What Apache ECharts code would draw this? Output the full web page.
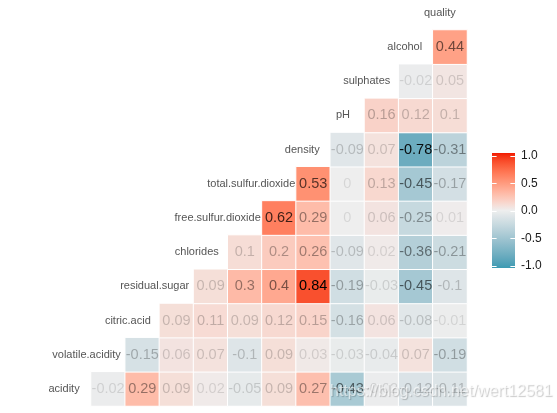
<!DOCTYPE html>
<html><head><meta charset="utf-8">
<script src="https://cdn.jsdelivr.net/npm/echarts@6/dist/echarts.min.js"></script>
<style>html,body{margin:0;padding:0;background:#fff}#c{width:557px;height:413px}</style>
</head><body><div id="c"></div>
<script>
// ---- data ----
const variables = ['acidity','volatile.acidity','citric.acid','residual.sugar','chlorides',
  'free.sulfur.dioxide','total.sulfur.dioxide','density','pH','sulphates','alcohol','quality'];
// correlations of each row variable with the variables that follow it
const corAcidity = [-0.02, 0.29, 0.09, 0.02, -0.05, 0.09, 0.27, -0.43, -0.02, -0.12, -0.11];
const corVolatileAcidity = [-0.15, 0.06, 0.07, -0.1, 0.09, 0.03, -0.03, -0.04, 0.07, -0.19];
const corCitricAcid = [0.09, 0.11, 0.09, 0.12, 0.15, -0.16, 0.06, -0.08, -0.01];
const corResidualSugar = [0.09, 0.3, 0.4, 0.84, -0.19, -0.03, -0.45, -0.1];
const corChlorides = [0.1, 0.2, 0.26, -0.09, 0.02, -0.36, -0.21];
const corFreeSulfur = [0.62, 0.29, 0, 0.06, -0.25, 0.01];
const corTotalSulfur = [0.53, 0, 0.13, -0.45, -0.17];
const corDensity = [-0.09, 0.07, -0.78, -0.31];
const corPH = [0.16, 0.12, 0.1];
const corSulphates = [-0.02, 0.05];
const corAlcohol = [0.44];
const legendTicks = [1.0, 0.5, 0.0, -0.5, -1.0];
const legendLabels = ['1.0', '0.5', '0.0', '-0.5', '-1.0'];
const watermark = 'https://blog.csdn.net/wert12581';

const corRows = [corAcidity, corVolatileAcidity, corCitricAcid, corResidualSugar, corChlorides,
  corFreeSulfur, corTotalSulfur, corDensity, corPH, corSulphates, corAlcohol];

// ---- colour scale (Lab interpolation like ggplot) ----
function hex2rgb(h){h=h.replace('#','');return [0,2,4].map(i=>parseInt(h.substr(i,2),16));}
function s2l(c){c/=255;return c<=0.04045?c/12.92:Math.pow((c+0.055)/1.055,2.4);}
function l2s(c){c=c<=0.0031308?12.92*c:1.055*Math.pow(c,1/2.4)-0.055;return Math.max(0,Math.min(255,Math.round(c*255)));}
const WX=0.95047,WY=1,WZ=1.08883;
function f(t){return t>0.008856?Math.cbrt(t):7.787*t+16/116;}
function fi(t){return t>0.206893?t*t*t:(t-16/116)/7.787;}
function rgb2lab(rgb){const [r,g,b]=rgb.map(s2l);
  const X=r*0.4124+g*0.3576+b*0.1805,Y=r*0.2126+g*0.7152+b*0.0722,Z=r*0.0193+g*0.1192+b*0.9505;
  const fx=f(X/WX),fy=f(Y/WY),fz=f(Z/WZ);return [116*fy-16,500*(fx-fy),200*(fy-fz)];}
function lab2rgb(lab){const fy=(lab[0]+16)/116,fx=fy+lab[1]/500,fz=fy-lab[2]/200;
  const X=WX*fi(fx),Y=WY*fi(fy),Z=WZ*fi(fz);
  const r=X*3.2406+Y*-1.5372+Z*-0.4986,g=X*-0.9689+Y*1.8758+Z*0.0415,b=X*0.0557+Y*-0.2040+Z*1.0570;
  return [l2s(r),l2s(g),l2s(b)];}
const LOW='#3B9AB2',MID='#EEEEEE',HIGH='#F21A00';
const labLow=rgb2lab(hex2rgb(LOW)),labMid=rgb2lab(hex2rgb(MID)),labHigh=rgb2lab(hex2rgb(HIGH));
const NSTOP=40;
const scaleColors=[];
for(let k=0;k<=NSTOP;k++){const v=-1+2*k/NSTOP;let a,b,t;
  if(v<0){a=labLow;b=labMid;t=v+1;}else{a=labMid;b=labHigh;t=v;}
  const lab=[0,1,2].map(i=>a[i]+(b[i]-a[i])*t);const c=lab2rgb(lab);
  scaleColors.push('rgb('+c.join(',')+')');}

// ---- build heatmap data ----
let maxAbs=0;corRows.forEach(r=>r.forEach(v=>{maxAbs=Math.max(maxAbs,Math.abs(v));}));
const cells=[];
corRows.forEach((row,a)=>{row.forEach((v,k)=>{
  const alpha=0.1+0.9*Math.abs(v)/maxAbs;
  cells.push({value:[a+k,a,v],label:{color:'rgba(0,0,0,'+alpha.toFixed(3)+')'}});
});});

const labelFont='11px "Liberation Sans", Arial, sans-serif';
const cv=document.createElement('canvas').getContext('2d');cv.font=labelFont;

const chart=echarts.init(document.getElementById('c'),null,{renderer:'canvas'});

// colourbar geometry
const cbX=492,cbY=153,cbW=23,cbH=115;
const tickY=v=>210.8-v*55;
const gradStops=scaleColors.map((c,k)=>({offset:1-k/NSTOP,color:c}));
const graphics=[
  {type:'rect',shape:{x:cbX,y:cbY,width:cbW,height:cbH},style:{fill:new echarts.graphic.LinearGradient(0,0,0,1,gradStops.slice().reverse())},z:10}
];
legendTicks.forEach((v,i)=>{
  const y=Math.round(tickY(v))+0.5;
  graphics.push({type:'line',shape:{x1:cbX,y1:y,x2:cbX+4.6,y2:y},style:{stroke:'#fff',lineWidth:1},z:11});
  graphics.push({type:'line',shape:{x1:cbX+cbW-4.6,y1:y,x2:cbX+cbW,y2:y},style:{stroke:'#fff',lineWidth:1},z:11});
  graphics.push({type:'text',x:521,y:tickY(v),style:{text:legendLabels[i],font:'12px "Liberation Sans", Arial, sans-serif',fill:'#1a1a1a',align:'left',verticalAlign:'middle'},z:11});
});
graphics.push({type:'text',x:330,y:392,style:{text:watermark,font:'16px "Liberation Sans", Arial, sans-serif',fill:'rgba(255,255,255,0.6)',align:'left',verticalAlign:'middle',
  textShadowColor:'rgba(0,0,0,0.35)',textShadowBlur:1,textShadowOffsetX:1,textShadowOffsetY:1,
  shadowColor:'rgba(0,0,0,0.35)',shadowBlur:1,shadowOffsetX:1,shadowOffsetY:1},z:100});

chart.setOption({
  animation:false,
  backgroundColor:'#fff',
  grid:{left:91,top:30,width:376,height:376},
  xAxis:{type:'category',data:variables.slice(1),show:false},
  yAxis:{type:'category',data:variables.slice(0,11),show:false},
  visualMap:{type:'continuous',min:-1,max:1,show:false,dimension:2,seriesIndex:0,inRange:{color:scaleColors}},
  series:[
    {type:'heatmap',data:cells,
     itemStyle:{borderColor:'#fff',borderWidth:1},
     label:{show:true,formatter:p=>String(p.value[2]),fontSize:14.5,fontFamily:'"Liberation Sans", Arial, sans-serif'},
     emphasis:{disabled:true}},
    {type:'custom',coordinateSystem:'cartesian2d',silent:true,
     data:variables.map((n,i)=>[0,0,i]),
     encode:{x:0,y:1},
     renderItem:function(params,api){
       const i=api.value(2);const name=variables[i];
       const c0=api.coord([0,0]);const sz=api.size([1,1]);
       const xi=(i===11)?10:i-1;const yi=i;
       const cx=c0[0]+xi*sz[0];const cy=c0[1]-yi*sz[1];
       const w=cv.measureText(name).width;
       return {type:'text',x:cx+0.185*w,y:cy,style:{text:name,font:labelFont,fill:'#555555',align:'right',verticalAlign:'middle'}};
     }}
  ],
  graphic:graphics
});
</script>
</body></html>
